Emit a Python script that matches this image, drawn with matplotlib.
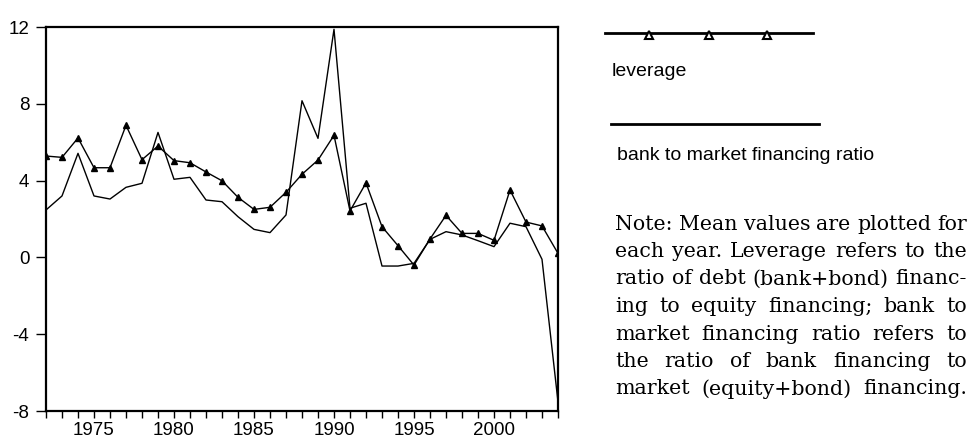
import matplotlib
matplotlib.use('Agg')
import matplotlib.pyplot as plt
from matplotlib import font_manager
from matplotlib.ticker import MultipleLocator, FixedLocator

## DATA (mean values per year)
years = list(range(1972, 2005))
leverage = [5.28, 5.21, 6.22, 4.67, 4.67, 6.88, 5.09, 5.80, 5.04, 4.93,
            4.45, 3.99, 3.13, 2.50, 2.61, 3.39, 4.33, 5.07, 6.36, 2.42,
            3.88, 1.60, 0.61, -0.40, 0.96, 2.19, 1.25, 1.25, 0.89, 3.51,
            1.84, 1.64, 0.21]
bank_ratio = [2.47, 3.20, 5.42, 3.20, 3.04, 3.65, 3.86, 6.51, 4.07, 4.17,
              2.99, 2.90, 2.12, 1.46, 1.29, 2.21, 8.16, 6.20, 11.88, 2.56,
              2.82, -0.45, -0.45, -0.31, 0.94, 1.34, 1.17, 0.87, 0.56, 1.78,
              1.60, -0.10, -7.52]
yticks = [12, 8, 4, 0, -4, -8]
xlabels = [1975, 1980, 1985, 1990, 1995, 2000]

note_lines = [
    "Note: Mean values are plotted for",
    "each year. Leverage refers to the",
    "ratio of debt (bank+bond) financ-",
    "ing to equity financing; bank to",
    "market financing ratio refers to",
    "the ratio of bank financing to",
    "market (equity+bond) financing.",
]

## FONTS
names = set(f.name for f in font_manager.fontManager.ttflist)
sans = 'Liberation Sans' if 'Liberation Sans' in names else 'DejaVu Sans'
serif = 'DejaVu Serif'
plt.rcParams['font.family'] = [sans, 'DejaVu Sans']

W, H = 969, 441
fig = plt.figure(figsize=(W / 100, H / 100), dpi=100)
ax = fig.add_axes([46 / W, 1 - 411 / H, (558 - 46) / W, (411 - 27) / H])

## PLOT LINES
ax.plot(years, bank_ratio, color='black', lw=1.0)
ax.plot(years, leverage, color='black', lw=1.0, marker='^', ms=5,
        mfc='black', mec='black')

ax.set_xlim(1972, 2004)
ax.set_ylim(-8, 12)
ax.set_yticks(yticks)
ax.set_yticklabels([str(v) for v in yticks])
ax.xaxis.set_major_locator(FixedLocator(xlabels))
ax.xaxis.set_minor_locator(MultipleLocator(1))
ax.tick_params(axis='y', which='both', direction='out', width=1.0,
               length=7, labelsize=13.5, pad=5)
ax.tick_params(axis='x', which='both', direction='out', width=1.0,
               length=5, labelsize=13.5, pad=3)
for s in ax.spines.values():
    s.set_linewidth(1.6)

## LEGEND (drawn by hand in figure pixels)
def px(x, y):
    return x / W, 1 - y / H

fig.add_artist(plt.Line2D([605 / W, 813 / W], [1 - 32.5 / H, 1 - 32.5 / H],
                          color='black', lw=2))
fig.add_artist(plt.Line2D([649 / W, 709 / W, 767 / W], [1 - 34.5 / H] * 3,
                          ls='none', marker='^', ms=6, mfc='white',
                          mec='black', mew=1.5))
fig.text(*px(612, 71), 'leverage', fontsize=14, va='center')
fig.add_artist(plt.Line2D([611 / W, 819 / W], [1 - 124 / H, 1 - 124 / H],
                          color='black', lw=2))
fig.text(*px(617, 155), 'bank to market financing ratio',
         fontsize=14, va='center')

## NOTE (justified)
fig.canvas.draw()
r = fig.canvas.get_renderer()
x0, x1 = 615, 967
y = 224
for line in note_lines:
    words = line.split(' ')
    objs = [fig.text(0, 0, w, family=serif, fontsize=14.8, va='center')
            for w in words]
    widths = [o.get_window_extent(r).width for o in objs]
    gap = (x1 - x0 - sum(widths)) / (len(words) - 1)
    x = x0
    for o, w in zip(objs, widths):
        o.set_position(px(x, y))
        x += w + gap
    y += 27.5

fig.savefig('out.png', dpi=100)
